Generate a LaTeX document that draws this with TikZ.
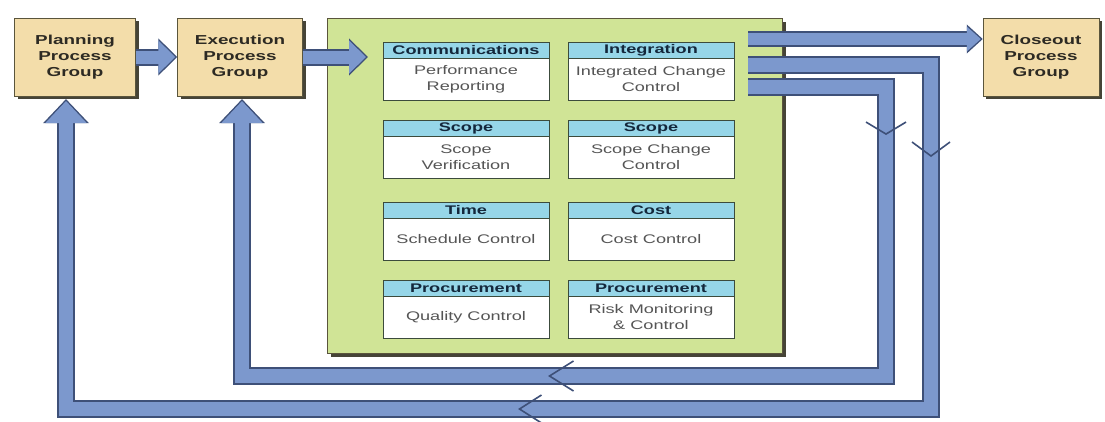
\documentclass[tikz,border=0pt]{standalone}
\usepackage{fontspec}
\newfontfamily\diagfont[FakeStretch=1.45]{Liberation Sans}
\usepackage{tikz}
\usetikzlibrary{arrows.meta,positioning,shadows,decorations.markings}

\definecolor{boxfill}{RGB}{243,221,170}
\definecolor{boxedge}{RGB}{90,85,60}
\definecolor{boxtext}{RGB}{45,42,35}
\definecolor{shade}{RGB}{70,68,55}
\definecolor{panelfill}{RGB}{208,228,150}
\definecolor{headfill}{RGB}{150,214,232}
\definecolor{cardedge}{RGB}{60,75,60}
\definecolor{headtext}{RGB}{20,40,60}
\definecolor{bodytext}{RGB}{85,85,85}
\definecolor{flowblue}{RGB}{124,152,205}
\definecolor{flowdark}{RGB}{62,80,120}

\tikzset{
  group/.style={draw=boxedge, fill=boxfill, minimum width=121pt, minimum height=78pt,
    inner sep=0pt, align=center, text=boxtext,
    font=\diagfont\bfseries\fontsize{13}{16}\selectfont,
    drop shadow={shadow xshift=3pt, shadow yshift=-3pt, fill=shade, opacity=1}},
  panel/.style={draw=boxedge, fill=panelfill, minimum width=455pt, minimum height=335pt,
    inner sep=0pt,
    drop shadow={shadow xshift=3pt, shadow yshift=-3pt, fill=shade, opacity=1}},
  cardhead/.style={draw=cardedge, fill=headfill, minimum width=166pt, minimum height=16pt,
    inner sep=0pt, text=headtext, font=\diagfont\bfseries\fontsize{12.5}{15}\selectfont},
  cardbody/.style={draw=cardedge, fill=white, minimum width=166pt, minimum height=42pt,
    inner sep=0pt, align=center, text=bodytext,
    font=\diagfont\fontsize{12.5}{16}\selectfont},
  bandout/.style n args={3}{draw=flowdark, line width=#3, line join=miter,
    -{Triangle[length=#1, width=#2]}},
  bandin/.style n args={3}{draw=flowblue, line width=#3, line join=miter, shorten >=2pt,
    -{Triangle[length=#1, width=#2]}},
  chevron/.style n args={3}{postaction={decorate, decoration={markings,
    mark=at position #1 with {\arrow{Straight Barb[color=flowdark, length=#2, width=#3, line width=1.6pt]}}}}}
}

\begin{document}
\begin{tikzpicture}[x=1pt,y=-1pt]
\useasboundingbox (0,0) rectangle (1105,421);

% process groups
\node[group] (plan) at (75,57) {Planning\\Process\\Group};
\node[group, minimum width=125pt] (exec) at (240,57) {Execution\\Process\\Group};
\node[group, minimum width=116pt] (close) at (1041,57) {Closeout\\Process\\Group};

% monitoring and controlling
\node[panel] (mc) at (555,186) {};

\node[cardhead] (h1) at (466,50) {Communications};
\node[cardbody, below=0pt of h1] (b1) {Performance\\Reporting};
\node[cardhead] (h2) at (651,50) {Integration};
\node[cardbody, below=0pt of h2] (b2) {Integrated Change\\Control};
\node[cardhead] (h3) at (466,128) {Scope};
\node[cardbody, below=0pt of h3] (b3) {Scope\\Verification};
\node[cardhead] (h4) at (651,128) {Scope};
\node[cardbody, below=0pt of h4] (b4) {Scope Change\\Control};
\node[cardhead] (h5) at (466,210) {Time};
\node[cardbody, below=0pt of h5] (b5) {Schedule Control};
\node[cardhead] (h6) at (651,210) {Cost};
\node[cardbody, below=0pt of h6] (b6) {Cost Control};
\node[cardhead] (h7) at (466,288) {Procurement};
\node[cardbody, below=0pt of h7] (b7) {Quality Control};
\node[cardhead] (h8) at (651,288) {Procurement};
\node[cardbody, below=0pt of h8] (b8) {Risk Monitoring\\\& Control};

\coordinate (pin) at (368,57);
\coordinate (out1) at (748,39);
\coordinate (out2) at (748,65);
\coordinate (out3) at (748,87);
\coordinate (planin) at (66,99);
\coordinate (execin) at (242,99);

% forward flow
\draw[bandout={19pt}{36pt}{17pt}] (plan.east) -- (exec.west);
\draw[bandin={17pt}{32pt}{13pt}] (plan.east) -- (exec.west);
\draw[bandout={19pt}{36pt}{17pt}] (exec.east) -- (pin);
\draw[bandin={17pt}{32pt}{13pt}] (exec.east) -- (pin);
\draw[bandout={16pt}{28pt}{16pt}] (out1) -- (out1 -| close.west);
\draw[bandin={14pt}{24pt}{12pt}] (out1) -- (out1 -| close.west);

% feedback loops
\draw[bandout={24pt}{44pt}{18pt}] (out2) -- (931,65) -- (931,409) -- (66,409) -- (planin);
\draw[bandin={22pt}{40pt}{14pt}, chevron={275pt}{14pt}{38pt}, chevron={940pt}{22pt}{28pt}]
  (out2) -- (931,65) -- (931,409) -- (66,409) -- (planin);
\draw[bandout={24pt}{44pt}{18pt}] (out3) -- (886,87) -- (886,376) -- (242,376) -- (execin);
\draw[bandin={22pt}{40pt}{14pt}, chevron={186pt}{12pt}{40pt}, chevron={765pt}{24pt}{30pt}]
  (out3) -- (886,87) -- (886,376) -- (242,376) -- (execin);
\end{tikzpicture}
\end{document}
